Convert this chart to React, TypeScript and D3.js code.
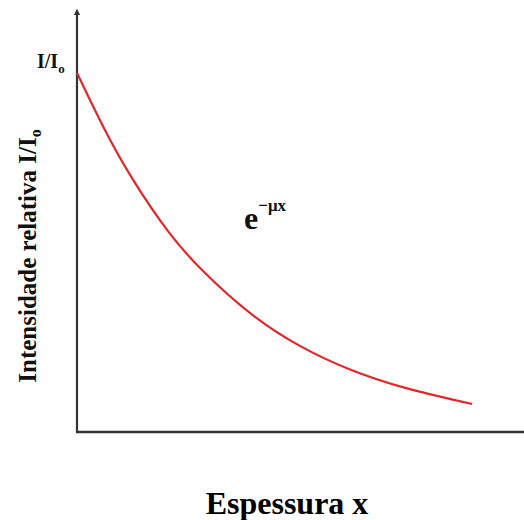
import { useEffect, useRef } from "react";
import * as d3 from "d3";

// espessura (arbitrary units) and relative intensity
const thickness = [0, 6, 12, 21, 28, 39, 50, 61.5, 73, 89];
const intensity = [1.0, 0.845, 0.71, 0.545, 0.45, 0.325, 0.237, 0.171, 0.123, 0.078];

const xLabel = "Espessura x";
const yLabel = "Intensidade relativa I/I";
const yLabelSub = "o";

const width = 524;
const height = 520;
const margin = { top: 73, right: 3, bottom: 88, left: 77 };

export default function App() {
  const svgRef = useRef<SVGSVGElement>(null);

  useEffect(() => {
    const svg = d3.select(svgRef.current);
    svg.selectAll("*").remove();

    const x = d3.scaleLinear().domain([0, 100]).range([margin.left, width - margin.right]);
    const y = d3.scaleLinear().domain([0, 1]).range([height - margin.bottom, margin.top]);

    const font = "'Liberation Serif', 'Times New Roman', serif";

    // arrow marker for y axis
    svg
      .append("defs")
      .append("marker")
      .attr("id", "arr")
      .attr("viewBox", "0 0 10 10")
      .attr("refX", 5)
      .attr("refY", 5)
      .attr("markerWidth", 3)
      .attr("markerHeight", 3)
      .attr("orient", "auto")
      .append("path")
      .attr("d", "M0,0 L10,5 L0,10 z")
      .attr("fill", "#333");

    const axisColor = "#333";

    // y axis
    svg
      .append("line")
      .attr("x1", x(0))
      .attr("x2", x(0))
      .attr("y1", y(0) + 1)
      .attr("y2", 12)
      .attr("stroke", axisColor)
      .attr("stroke-width", 2.2)
      .attr("marker-end", "url(#arr)");

    // x axis
    svg
      .append("line")
      .attr("x1", x(0) - 1)
      .attr("x2", width)
      .attr("y1", y(0))
      .attr("y2", y(0))
      .attr("stroke", axisColor)
      .attr("stroke-width", 2.6);

    // curve (basis smooths out reading noise)
    const line = d3
      .line<number>()
      .x((_, i) => x(thickness[i]))
      .y((d) => y(d))
      .curve(d3.curveBasis);

    svg
      .append("path")
      .datum(intensity)
      .attr("d", line)
      .attr("fill", "none")
      .attr("stroke", "#e0282a")
      .attr("stroke-width", 2.2);

    // I/Io at top of y axis
    const top = svg
      .append("text")
      .attr("x", 37)
      .attr("y", 68)
      .attr("font-family", font)
      .attr("font-weight", "bold")
      .attr("font-size", 20)
      .attr("fill", "#111");
    top.append("tspan").text("I/I");
    top.append("tspan").attr("dy", 5).attr("font-size", 13).text("o");

    // e^-μx
    const eq = svg
      .append("text")
      .attr("x", 244)
      .attr("y", 229)
      .attr("font-family", font)
      .attr("font-weight", "bold")
      .attr("font-size", 32)
      .attr("fill", "#111");
    eq.append("tspan").text("e");
    eq.append("tspan").attr("dy", -18).attr("font-size", 17).text("\u2212\u03bcx");

    // x label
    svg
      .append("text")
      .attr("x", 287)
      .attr("y", 514)
      .attr("text-anchor", "middle")
      .attr("font-family", font)
      .attr("font-weight", "bold")
      .attr("font-size", 32)
      .attr("fill", "#000")
      .text(xLabel);

    // y label
    const yl = svg
      .append("text")
      .attr("transform", "translate(36,256) rotate(-90)")
      .attr("text-anchor", "middle")
      .attr("font-family", font)
      .attr("font-weight", "bold")
      .attr("font-size", 25)
      .attr("fill", "#111");
    yl.append("tspan").text(yLabel);
    yl.append("tspan").attr("dy", 5).attr("font-size", 16).text(yLabelSub);
  }, []);

  return (
    <svg
      ref={svgRef}
      width={width}
      height={height}
      style={{ position: "absolute", left: 0, top: 0, background: "#fff" }}
    />
  );
}
